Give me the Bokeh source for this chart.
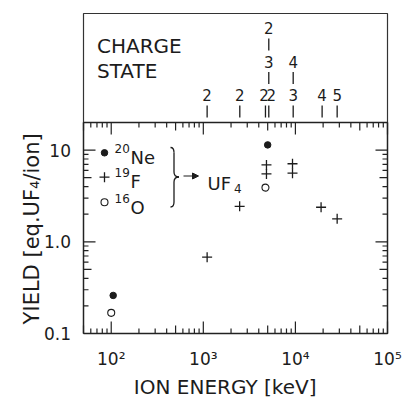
import math
from bokeh.plotting import figure
from bokeh.models import Range1d, Arrow, NormalHead
from bokeh.core.properties import value
from bokeh.embed import file_html
from bokeh.resources import INLINE

# ---------------- data ----------------
ne_energy = [105, 5000]
ne_yield = [0.26, 11.4]

f_energy = [1100, 2480, 4850, 4850, 9300, 9300, 19000, 28400]
f_yield = [0.68, 2.44, 6.9, 5.5, 7.1, 5.6, 2.38, 1.78]

o_energy = [100, 4730]
o_yield = [0.168, 3.9]

charge_energy = [1100, 2490, 4730, 5140, 5140, 5140, 9460, 9460, 19500, 28400]
charge_label = ["2", "2", "2", "2", "3", "2", "3", "4", "4", "5"]
charge_row = [0, 0, 0, 0, 1, 2, 0, 1, 0, 0]
charge_dx = [0, 0, -1.5, 2.5, 0, 0, 0, 0, 0, 0]

x_major = [1e2, 1e3, 1e4, 1e5]
x_labels = ["10²", "10³", "10⁴", "10⁵"]
y_major = [0.1, 1.0, 10.0]
y_labels = ["0.1", "1.0", "10"]

legend_labels = ["Ne", "F", "O"]
legend_masses = ["20", "19", "16"]

# ---------------- geometry (pixels of the 413x398 page) ----------------
FONT = "DejaVu Sans"
INK = "#1c1c1c"
W, H = 413, 398
X_MIN, X_MAX = 50.0, 1e5          # energy range of the plot box
Y_MIN, Y_MAX = 0.1, 20.0          # yield range of the plot box
BOX_L, BOX_R = 83, 387            # plot box left / right (px)
BOX_T, BOX_B = 122, 333           # main plot box top / bottom (px)
PANEL_T = 13                      # charge-state panel top (px)
ROW_STEP = 33.5
MAJOR_LEN, MID_LEN, MINOR_LEN = 12, 8, 5

LX0, LX1 = math.log10(X_MIN), math.log10(X_MAX)
LY0, LY1 = math.log10(Y_MIN), math.log10(Y_MAX)
DX = (LX1 - LX0) / (BOX_R - BOX_L)   # decades per px
DY = (LY1 - LY0) / (BOX_B - BOX_T)


def px_x(px):
    return 10 ** (LX0 + (px - BOX_L) * DX)


def px_y(py):
    return 10 ** (LY0 + (BOX_B - py) * DY)


p = figure(width=W, height=H, x_axis_type="log", y_axis_type="log",
           x_range=Range1d(px_x(0), px_x(W)), y_range=Range1d(px_y(H), px_y(0)),
           output_backend="svg", toolbar_location=None,
           min_border=0, min_border_left=0, min_border_right=0,
           min_border_top=0, min_border_bottom=0,
           x_axis_location=None, y_axis_location=None)
p.grid.visible = False
p.outline_line_color = None
p.background_fill_color = "white"
p.border_fill_color = "white"

# ---------------- frames ----------------
p.multi_line(xs=[[X_MIN, X_MAX, X_MAX, X_MIN, X_MIN]],
             ys=[[Y_MIN, Y_MIN, Y_MAX, Y_MAX, Y_MIN]],
             line_color="#222222", line_width=1.5)
p.multi_line(xs=[[X_MIN, X_MIN, X_MAX, X_MAX]],
             ys=[[Y_MAX, px_y(PANEL_T), px_y(PANEL_T), Y_MAX]],
             line_color="#333333", line_width=1.2)

# ---------------- ticks (inward, four sides) drawn as dash markers ----------------
x_minor = [float(m * 10 ** k) for k in range(1, 5) for m in range(2, 10) if X_MIN <= m * 10 ** k <= X_MAX]
y_minor = [round(m * 10.0 ** k, 6) for k in range(-1, 2) for m in range(2, 10) if Y_MIN <= m * 10.0 ** k <= Y_MAX]


def tick_len(v, majors):
    if v in majors:
        return float(MAJOR_LEN)
    m = round(v / 10 ** math.floor(math.log10(v) + 1e-9))
    return float(MID_LEN if m == 5 else MINOR_LEN)


x_ticks = [float(v) for v in x_major + x_minor]
y_ticks = [float(v) for v in y_major + y_minor]
x_len = [tick_len(v, x_major) for v in x_ticks]
y_len = [tick_len(v, y_major) for v in y_ticks]

tick_style = dict(marker="dash", line_color="#222222", line_width=1.2)
p.scatter(x=x_ticks, y=[px_y(BOX_B - L / 2) for L in x_len], size=x_len,
          angle=math.pi / 2, **tick_style)
p.scatter(x=x_ticks, y=[px_y(BOX_T + L / 2) for L in x_len], size=x_len,
          angle=math.pi / 2, **tick_style)
p.scatter(x=[px_x(BOX_L + L / 2) for L in y_len], y=y_ticks, size=y_len,
          angle=0.0, **tick_style)
p.scatter(x=[px_x(BOX_R - L / 2) for L in y_len], y=y_ticks, size=y_len,
          angle=0.0, **tick_style)

# ---------------- tick labels and axis titles ----------------
p.text(x=x_major, y=[px_y(358)] * len(x_major), text=x_labels,
       text_align="center", text_baseline="alphabetic",
       text_font=value(FONT), text_font_size="17px", text_color=INK)
p.text(x=[px_x(70.5)] * len(y_major), y=y_major, text=y_labels,
       text_align="right", text_baseline="middle",
       text_font=value(FONT), text_font_size="17px", text_color=INK)
p.text(x=[px_x(231)], y=[px_y(386)], text=["ION  ENERGY  [keV]"],
       text_align="center", text_baseline="alphabetic",
       text_font=value(FONT), text_font_size="20px", text_color=INK)
p.text(x=[px_x(31)], y=[px_y(225)], text=["YIELD  [eq.UF₄/ion]"], angle=math.pi / 2,
       text_align="center", text_baseline="alphabetic",
       text_font=value(FONT), text_font_size="21px", text_color=INK)

# ---------------- charge-state panel ----------------
p.segment(x0=charge_energy, x1=charge_energy,
          y0=[px_y(BOX_T - (r * ROW_STEP + 5)) for r in charge_row],
          y1=[px_y(BOX_T - (r * ROW_STEP + 17)) for r in charge_row],
          line_color=INK, line_width=1.3)
p.text(x=charge_energy, y=[px_y(BOX_T - (r * ROW_STEP + 27.5)) for r in charge_row],
       text=charge_label, x_offset=charge_dx,
       text_align="center", text_baseline="middle",
       text_font=value(FONT), text_font_size="15px", text_color=INK)
p.text(x=[px_x(96.5)] * 2, y=[px_y(45.7), px_y(70.7)],
       text=["CHARGE", "STATE"], text_align="left", text_baseline="alphabetic",
       text_font=value(FONT), text_font_size="20px", text_color=INK)

# ---------------- data marks ----------------
p.scatter(f_energy, f_yield, marker="cross", size=10, line_width=1.3, line_color=INK)
p.scatter(ne_energy, ne_yield, marker="circle", size=6.5, fill_color=INK, line_color=INK)
p.scatter(o_energy, o_yield, marker="circle", size=7, fill_color="white", line_color=INK, line_width=1.1)

# ---------------- in-plot legend ----------------
leg_x = px_x(104)
p.scatter([leg_x], [px_y(152.3)], marker="circle", size=6.5, fill_color=INK, line_color=INK)
p.scatter([leg_x], [px_y(176.7)], marker="cross", size=10, line_width=1.3, line_color=INK)
p.scatter([leg_x], [px_y(201.7)], marker="circle", size=7, fill_color="white", line_color=INK, line_width=1.1)
p.text(x=[px_x(130)] * 3, y=[px_y(156.7), px_y(180.7), px_y(206.7)], text=legend_labels,
       text_align="left", text_baseline="alphabetic",
       text_font=value(FONT), text_font_size="18px", text_color=INK)
p.text(x=[px_x(114)] * 3, y=[px_y(148.3), px_y(171.5), px_y(198.3)], text=legend_masses,
       text_align="left", text_baseline="alphabetic",
       text_font=value(FONT), text_font_size="12px", text_color=INK)

# brace
sx, ex, tx = 173.5, 170.0, 178.5
yt, ym, yb = 147.0, 176.5, 206.5
bz = [
    (ex, yt, sx - 0.5, yt, sx, yt + 2, sx, yt + 5),
    (sx, ym - 5, sx, ym - 1.5, sx + 2, ym, tx, ym),
    (tx, ym, sx + 2, ym, sx, ym + 1.5, sx, ym + 5),
    (sx, yb - 5, sx, yb - 2, sx - 0.5, yb, ex, yb),
]
p.bezier(x0=[px_x(b[0]) for b in bz], y0=[px_y(b[1]) for b in bz],
         cx0=[px_x(b[2]) for b in bz], cy0=[px_y(b[3]) for b in bz],
         cx1=[px_x(b[4]) for b in bz], cy1=[px_y(b[5]) for b in bz],
         x1=[px_x(b[6]) for b in bz], y1=[px_y(b[7]) for b in bz],
         line_color=INK, line_width=1.3)
p.segment(x0=[px_x(sx), px_x(sx)], x1=[px_x(sx), px_x(sx)],
          y0=[px_y(yt + 5), px_y(ym + 5)], y1=[px_y(ym - 5), px_y(yb - 5)],
          line_color=INK, line_width=1.3)

# arrow and UF4
p.add_layout(Arrow(end=NormalHead(size=6, fill_color=INK, line_color=INK, line_width=1),
                   x_start=px_x(183), y_start=px_y(175.5), x_end=px_x(198), y_end=px_y(175.5),
                   line_color=INK, line_width=1.2))
p.text(x=[px_x(207)], y=[px_y(182.7)], text=["UF"], text_align="left", text_baseline="alphabetic",
       text_font=value(FONT), text_font_size="18px", text_color=INK)
p.text(x=[px_x(233.5)], y=[px_y(187.5)], text=["4"], text_align="left", text_baseline="alphabetic",
       text_font=value(FONT), text_font_size="12px", text_color=INK)

open("out.html", "w").write(file_html(p, INLINE))
